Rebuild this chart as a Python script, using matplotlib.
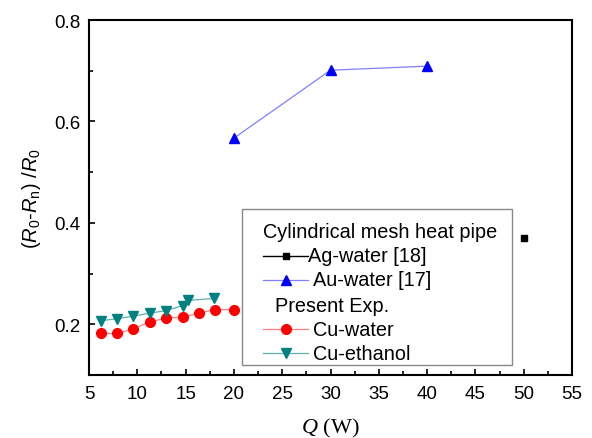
import matplotlib
matplotlib.use("Agg")
import matplotlib.pyplot as plt
from matplotlib.lines import Line2D
from matplotlib.patches import Rectangle
from matplotlib.ticker import MultipleLocator

plt.rcParams['font.family'] = ['Liberation Sans', 'DejaVu Sans']
plt.rcParams['mathtext.fontset'] = 'custom'
plt.rcParams['mathtext.rm'] = 'Liberation Sans'
plt.rcParams['mathtext.it'] = 'Liberation Sans:italic'
plt.rcParams['mathtext.cal'] = 'Liberation Serif:italic'

# Data
ag_q = [50]
ag_r = [0.370]
au_q = [20, 30, 40]
au_r = [0.567, 0.701, 0.709]
cu_water_q = [6.2, 7.9, 9.6, 11.3, 13.0, 14.7, 16.4, 18.0, 20.0]
cu_water_r = [0.182, 0.182, 0.191, 0.205, 0.212, 0.214, 0.222, 0.229, 0.229]
cu_eth_q = [6.2, 7.9, 9.6, 11.3, 13.0, 14.7, 15.3, 17.9]
cu_eth_r = [0.207, 0.211, 0.216, 0.222, 0.227, 0.237, 0.247, 0.251]
xticks = [5, 10, 15, 20, 25, 30, 35, 40, 45, 50, 55]
yticks = [0.2, 0.4, 0.6, 0.8]

fig = plt.figure(figsize=(5.92, 4.39), dpi=100)
ax = fig.add_axes([89 / 592, 1 - 376 / 439, 483 / 592, 355 / 439])

ax.plot(ag_q, ag_r, color='black', marker='s', ms=5, lw=1)
ax.plot(au_q, au_r, color='#8080ff', lw=0.9, marker='^', ms=7, mfc='#0000ff', mec='#0000ff')
ax.plot(cu_water_q, cu_water_r, color='#ff8080', lw=0.9, marker='o', ms=7, mfc='#ff0000', mec='#ff0000')
ax.plot(cu_eth_q, cu_eth_r, color='#5fb0aa', lw=0.9, marker='v', ms=7, mfc='#008080', mec='#008080')

ax.set_xlim(5, 55)
ax.set_ylim(0.1, 0.8)
ax.set_xticks(xticks)
ax.set_yticks(yticks)
ax.xaxis.set_minor_locator(MultipleLocator(2.5))
ax.yaxis.set_minor_locator(MultipleLocator(0.1))
ax.tick_params(which='both', direction='in', top=False, right=False, labelsize=13.5, width=1.2)
ax.tick_params(which='major', length=4.5)
ax.tick_params(which='minor', length=3)
ax.tick_params(axis='x', pad=7)
ax.tick_params(axis='y', pad=6)
for s in ax.spines.values():
    s.set_linewidth(1.5)

ax.set_xlabel(r"$\mathcal{Q}$ (W)", fontfamily='Liberation Serif', fontsize=16, labelpad=10)
ax.set_ylabel(r"($\mathit{R}_0$-$\mathit{R}_\mathrm{n}$) /$\mathit{R}_0$", fontsize=14.5, labelpad=8)

# Manual legend (axes coordinates)
def ax_xy(px, py):
    x0, x1 = 89, 572
    y0, y1 = 376, 21
    return (px - x0) / (x1 - x0), (y0 - py) / (y0 - y1)

lx0, ly0 = ax_xy(242, 366)
lx1, ly1 = ax_xy(512, 210)
ax.add_patch(Rectangle((lx0, ly0), lx1 - lx0, ly1 - ly0, transform=ax.transAxes,
                       facecolor='white', edgecolor='#888888', lw=1.0, zorder=5, clip_on=False))

def leg_text(px, py, s):
    x, y = ax_xy(px, py)
    ax.text(x, y, s, transform=ax.transAxes, fontsize=14.3, va='center', ha='left', zorder=6)

def leg_line(px0, px1, py, color, lcolor, marker, ms, lw):
    xa, y = ax_xy(px0, py)
    xb, _ = ax_xy(px1, py)
    ax.add_line(Line2D([xa, xb], [y, y], transform=ax.transAxes, color=lcolor, lw=lw,
                       zorder=6, clip_on=False))
    ax.add_line(Line2D([(xa + xb) / 2], [y], transform=ax.transAxes, marker=marker, ms=ms,
                       mfc=color, mec=color, linestyle='none', zorder=7, clip_on=False))

leg_text(263, 232, "Cylindrical mesh heat pipe")
leg_line(263, 308, 257, 'black', 'black', 's', 5, 1.0)
leg_text(308, 257, "Ag-water [18]")
leg_line(263, 308, 281, '#0000ff', '#8080ff', '^', 7, 0.9)
leg_text(313, 281, "Au-water [17]")
leg_text(275, 307, "Present Exp.")
leg_line(263, 308, 330, '#ff0000', '#ff8080', 'o', 7, 0.9)
leg_text(313, 330, "Cu-water")
leg_line(263, 308, 354, '#008080', '#5fb0aa', 'v', 7, 0.9)
leg_text(313, 354, "Cu-ethanol")

fig.savefig("out.png", dpi=100)
